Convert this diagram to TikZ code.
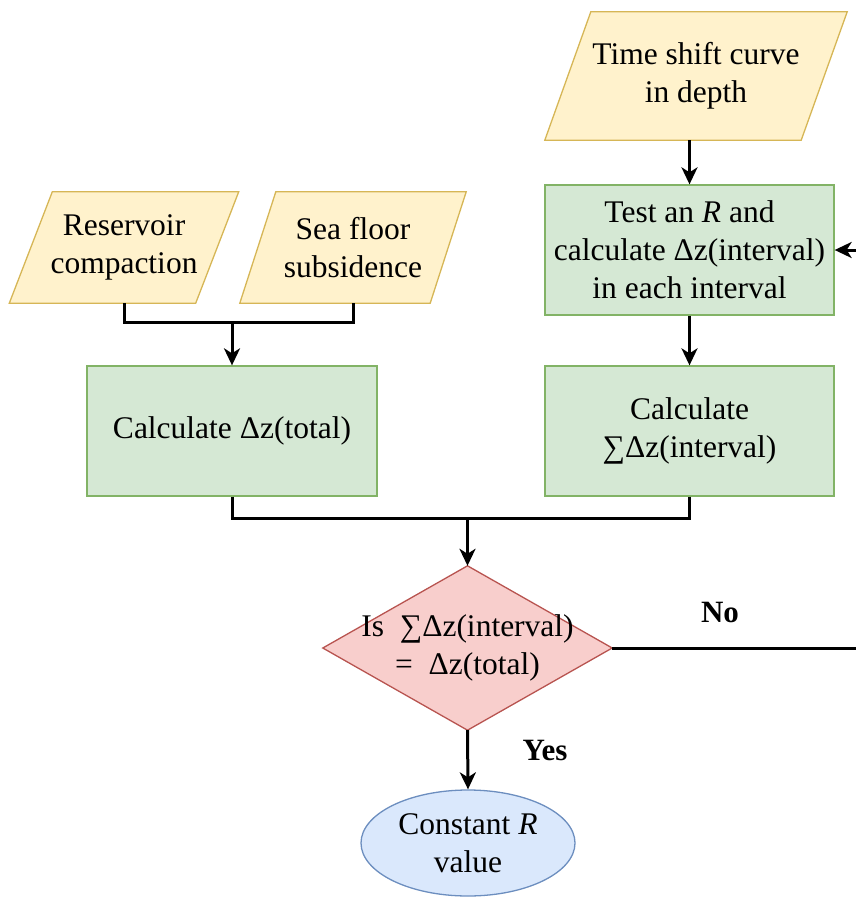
\documentclass[tikz,border=0pt]{standalone}
\usepackage{fontspec}
\setmainfont{Liberation Serif}
\usetikzlibrary{arrows.meta,calc,shapes.geometric}
\definecolor{yfill}{HTML}{FFF2CC}\definecolor{ystroke}{HTML}{D6B656}
\definecolor{gfill}{HTML}{D5E8D4}\definecolor{gstroke}{HTML}{82B366}
\definecolor{rfill}{HTML}{F8CECC}\definecolor{rstroke}{HTML}{B85450}
\definecolor{bfill}{HTML}{DAE8FC}\definecolor{bstroke}{HTML}{6C8EBF}
\pgfdeclarelayer{background}
\pgfsetlayers{background,main}
\begin{document}
\begin{tikzpicture}[x=1pt,y=-1pt,
  font=\fontsize{31.5}{38}\selectfont,
  greenbox/.style={draw=gstroke, fill=gfill, line width=1.3pt, minimum width=289, minimum height=130, align=center, inner sep=0},
  paraholder/.style={minimum height=#1, align=center, inner sep=0},
  parashape/.style={draw=ystroke, fill=yfill, line width=1.3pt, line join=miter},
  conn/.style={line width=3pt, draw=black},
  arr/.style={conn, -{Stealth[length=17pt,width=16pt,inset=5pt]}},
  lbl/.style={font=\fontsize{31}{36}\selectfont\bfseries}
]
\useasboundingbox (0,0) rectangle (856,897);

% parallelograms
\node[paraholder=128, minimum width=256] (time) at (696,76) {Time shift curve\\in depth};
\node[paraholder=111, minimum width=186] (res) at (124,247.5) {Reservoir\\compaction};
\node[paraholder=111, minimum width=190] (sea) at (353,247.5) {Sea floor\\subsidence};
\begin{pgfonlayer}{background}
\foreach \n/\s in {time/23, res/21.5, sea/18}{
  \draw[parashape] ([xshift=\s pt]\n.north west) -- ([xshift=\s pt]\n.north east)
     -- ([xshift=-\s pt]\n.south east) -- ([xshift=-\s pt]\n.south west) -- cycle;
}
\end{pgfonlayer}

% boxes
\node[greenbox] (test) at (689.5,250) {Test an \textit{R} and\\calculate \symbol{"0394}z(interval)\\in each interval};
\node[greenbox, minimum width=290] (tot) at (232,431) {Calculate \symbol{"0394}z(total)};
\node[greenbox] (sig) at (689.5,431) {Calculate\\\symbol{"2211}\symbol{"0394}z(interval)};

% diamond
\node[minimum width=289, minimum height=164, inner sep=0, align=center] (dia) at (467.5,648) {Is\ \ \symbol{"2211}\symbol{"0394}z(interval)\\=\ \ \symbol{"0394}z(total)};
\begin{pgfonlayer}{background}
\draw[draw=rstroke, fill=rfill, line width=1.3pt] (dia.north) -- (dia.east) -- (dia.south) -- (dia.west) -- cycle;
\end{pgfonlayer}

% ellipse
\node[ellipse, draw=bstroke, fill=bfill, line width=1.3pt, minimum width=214, minimum height=106, inner sep=0, align=center] (ell) at (468,843) {Constant \textit{R}\\value};

% connectors
\coordinate (m1) at (232,322);
\coordinate (m2) at (467.5,518);
\coordinate (noend) at (856,648);
\coordinate (inend) at (856,250);
\draw[conn] (res.south) |- (m1);
\draw[conn] (sea.south) |- (m1);
\draw[arr] (m1) -- (tot.north);
\draw[arr] (time.south -| test.north) -- (test.north);
\draw[arr] (test.south) -- (sig.north);
\draw[conn] (tot.south) |- (m2);
\draw[conn] (sig.south) |- (m2);
\draw[arr] (m2) -- (dia.north);
\draw[conn] (dia.east) -- (noend);
\draw[arr] (inend) -- (test.east);
\draw[arr] (dia.south) -- (ell.north);
\node[lbl] (no) at (720,612) {No};
\node[lbl] (yes) at (545,750) {Yes};
\end{tikzpicture}
\end{document}
